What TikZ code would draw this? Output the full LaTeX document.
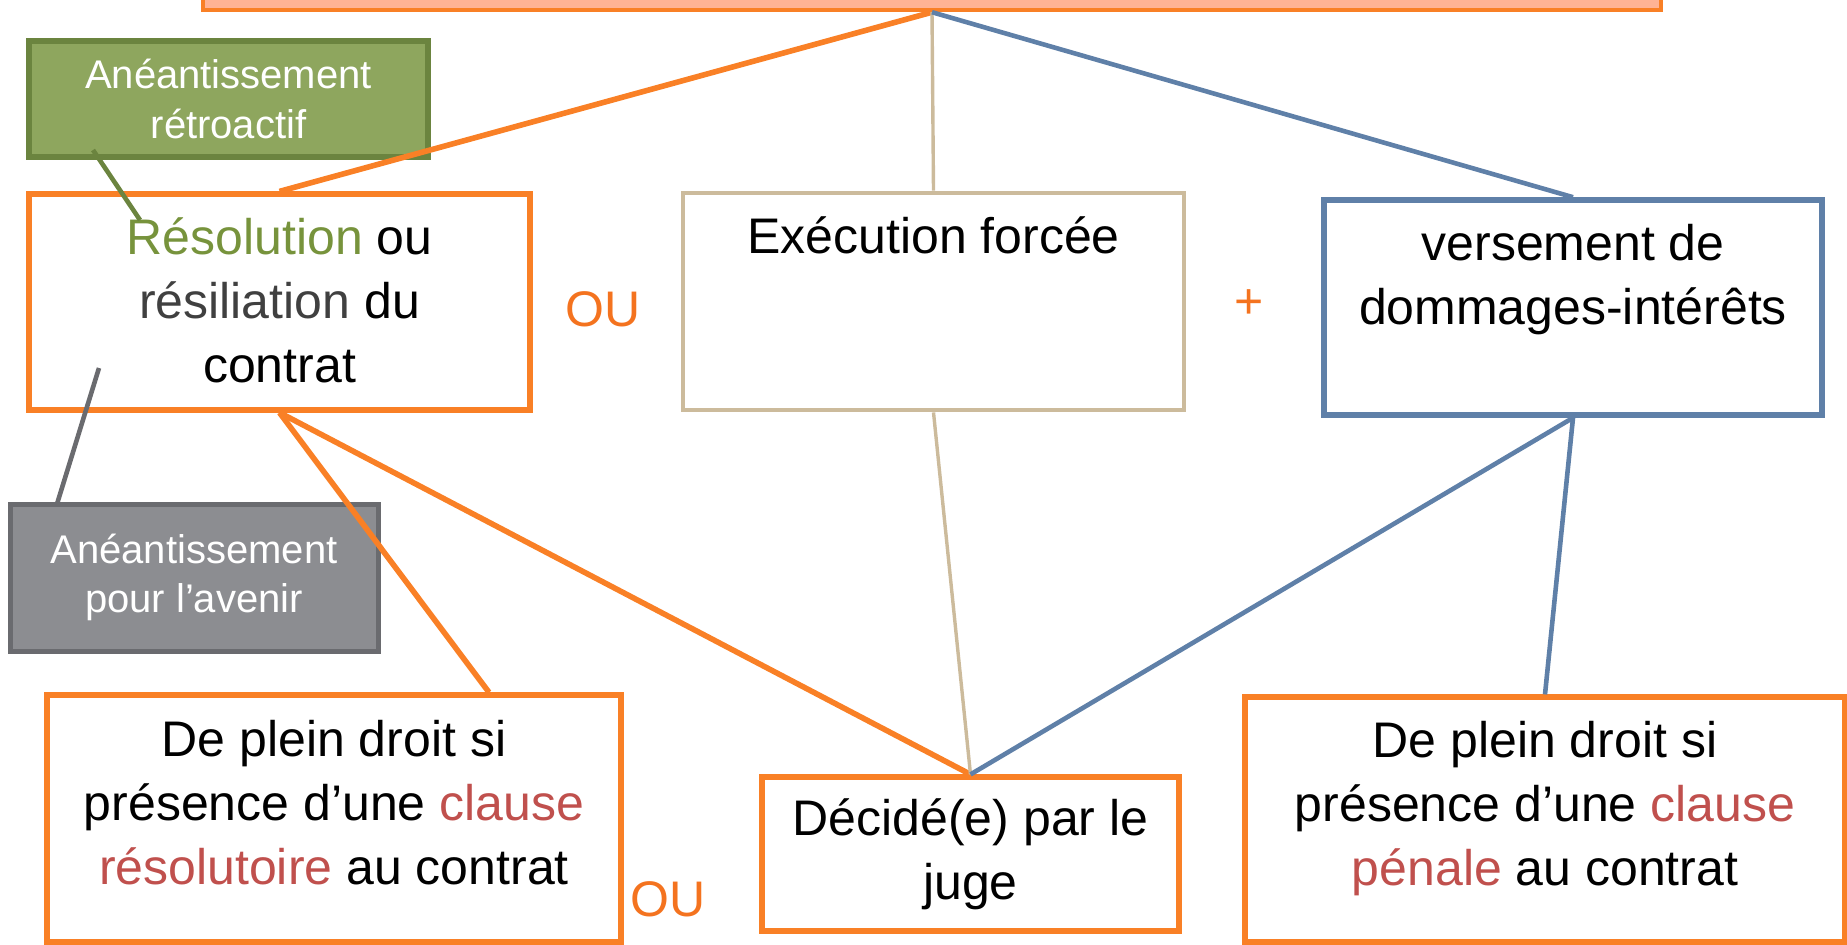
\documentclass[tikz,border=0pt]{standalone}
\usepackage{fontspec}
\setmainfont{Liberation Sans}
\definecolor{orangeline}{RGB}{249,128,38}
\definecolor{saumon}{RGB}{255,179,148}
\definecolor{tanline}{RGB}{204,187,156}
\definecolor{bleuline}{RGB}{95,128,168}
\definecolor{vertfond}{RGB}{142,166,94}
\definecolor{vertbord}{RGB}{107,132,63}
\definecolor{grisfond}{RGB}{140,141,145}
\definecolor{grisbord}{RGB}{106,107,111}
\definecolor{vert}{RGB}{119,147,60}
\definecolor{sombre}{RGB}{64,64,64}
\definecolor{rouge}{RGB}{192,80,77}
\definecolor{orangetxt}{RGB}{244,115,31}

\begin{document}
\begin{tikzpicture}[x=1pt, y=-1pt, inner sep=0pt,
orangebox/.style={rectangle,draw=orangeline,fill=white,line width=2.6pt},
tanbox/.style={rectangle,draw=tanline,fill=white,line width=2.4pt},
bluebox/.style={rectangle,draw=bleuline,fill=white,line width=2.8pt},
topbox/.style={rectangle,draw=orangeline,fill=saumon,line width=2.2pt},
greenbox/.style={rectangle,draw=vertbord,fill=vertfond,line width=2.8pt,text=white,align=center,font=\fontsize{20}{24.7}\selectfont},
graybox/.style={rectangle,draw=grisbord,fill=grisfond,line width=2.5pt,text=white,align=center,font=\fontsize{20}{24.7}\selectfont},
txt/.style={anchor=base,align=center,font=\fontsize{25}{32}\selectfont},
ou/.style={text=orangetxt,font=\fontsize{25}{32}\selectfont},
orangelink/.style={draw=orangeline,line width=2.8pt},
tanlink/.style={draw=tanline,line width=1.7pt},
bluelink/.style={draw=bleuline,line width=2.3pt}]
\useasboundingbox (0,0) rectangle (923.5,472);
\clip (0,0) rectangle (923.5,472);

\draw (466,-10) node[topbox,minimum width=729pt,minimum height=30pt](inexec) {};
\draw (114.25,49.5) node[greenbox,minimum width=199.5pt,minimum height=58pt](retro) {Anéantissement\\rétroactif};
\draw (139.75,151) node[orangebox,minimum width=250.5pt,minimum height=108pt](resol) {};
\draw (466.75,150.75) node[tanbox,minimum width=250.5pt,minimum height=108.5pt](exec) {};
\draw (786.5,153.75) node[bluebox,minimum width=249pt,minimum height=107.5pt](vers) {};
\draw (97,288.75) node[graybox,minimum width=184pt,minimum height=73.5pt](avenir) {Anéantissement\\pour l’avenir};
\draw (167,409.25) node[orangebox,minimum width=287pt,minimum height=123.5pt](plein1) {};
\draw (485.25,427) node[orangebox,minimum width=208.5pt,minimum height=77pt](juge) {};
\draw (772.5,409.75) node[orangebox,minimum width=300pt,minimum height=122.5pt](plein2) {};

\draw ([yshift=-95.5pt]resol.north) node[txt] {\textcolor{vert}{Résolution} ou\\\textcolor{sombre}{résiliation} du\\contrat};
\draw ([yshift=-31.5pt]exec.north) node[txt] {Exécution forcée};
\draw ([yshift=-63.5pt]vers.north) node[txt] {versement de\\dommages-intérêts};
\draw ([yshift=-96pt]plein1.north) node[txt] {De plein droit si\\présence d’une \textcolor{rouge}{clause}\\\textcolor{rouge}{résolutoire} au contrat};
\draw ([yshift=-62.5pt]juge.north) node[txt] {Décidé(e) par le\\juge};
\draw ([yshift=-95.5pt]plein2.north) node[txt] {De plein droit si\\présence d’une \textcolor{rouge}{clause}\\\textcolor{rouge}{pénale} au contrat};

\draw (301.5,154.5) node[ou](ou1) {OU};
\draw (624.5,152) node[ou](plus) {+};
\draw (334,449.5) node[ou](ou2) {OU};

\coordinate (gA) at (46.5,75);
\coordinate (gB) at (70,110);
\coordinate (gC) at (49.5,184);
\coordinate (gD) at (28.5,252);

\draw[orangelink] (inexec.south) -- (resol.north);
\draw[tanlink] (inexec.south) -- (exec.north);
\draw[bluelink] (inexec.south) -- (vers.north);
\draw[orangelink] (resol.south) -- ([xshift=77.5pt]plein1.north);
\draw[orangelink] (resol.south) -- (juge.north);
\draw[tanlink] (exec.south) -- (juge.north);
\draw[bluelink] (vers.south) -- (juge.north);
\draw[bluelink] (vers.south) -- (plein2.north);
\draw[draw=vertbord,line width=2.3pt] (gA) -- (gB);
\draw[draw=grisbord,line width=2.3pt] (gC) -- (gD);
\end{tikzpicture}
\end{document}
